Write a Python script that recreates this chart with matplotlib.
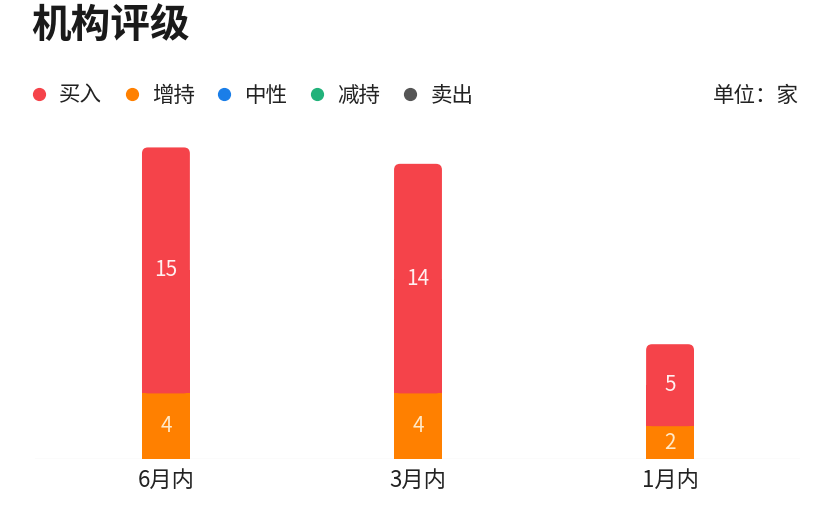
import matplotlib
matplotlib.use("Agg")
import matplotlib.pyplot as plt
from matplotlib.patches import FancyBboxPatch
from matplotlib.lines import Line2D

plt.rcParams['font.family'] = ['Noto Sans CJK SC', 'DejaVu Sans']

# data
periods = ['6月内', '3月内', '1月内']
buy = [15, 14, 5]
overweight = [4, 4, 2]
legend_names = ['买入', '增持', '中性', '减持', '卖出']
legend_colors = ['#F5434A', '#FF8000', '#1A7EE8', '#21B27A', '#555555']

RED = legend_colors[0]
ORANGE = legend_colors[1]

fig = plt.figure(figsize=(8.3, 5.14), dpi=100)
ax = fig.add_axes([0.042, 0.107, 0.922, 0.64])

x = list(range(len(periods)))
width = 0.19
ymax = 20.06
ax.set_xlim(-0.52, 2.516)
ax.set_ylim(0, ymax)

# orange (bottom) segments
ax.bar(x, overweight, width=width, color=ORANGE, zorder=2)

# red segments with rounded top
px_per_x = 0.922 * 830 / (2.516 + 0.52)
px_per_y = 0.64 * 514 / ymax
aspect = px_per_x / px_per_y
r = 6 / px_per_x
for xi, b, o in zip(x, buy, overweight):
    box = FancyBboxPatch((xi - width / 2, o), width, b,
                         boxstyle=f"round,pad=0,rounding_size={r}",
                         mutation_aspect=aspect, fc=RED, ec='none', zorder=2)
    ax.add_patch(box)
    ax.bar(xi, b / 2, bottom=o, width=width, color=RED, zorder=2)
    ax.text(xi, o + b / 2, str(b), ha='center', va='center', color='#FFF0F0',
            fontsize=15, zorder=3)
    ax.text(xi, o / 2, str(o), ha='center', va='center', color='#FFE9C8',
            fontsize=15, zorder=3)

ax.axhline(0, color='#EEEEEE', lw=1, zorder=1)
for s in ax.spines.values():
    s.set_visible(False)
ax.set_yticks([])
ax.set_xticks(x)
ax.set_xticklabels(periods, fontsize=16, color='#222222')
ax.tick_params(axis='x', length=0, pad=7)

# title
fig.text(0.038, 0.950, '机构评级', fontsize=28.5, fontweight='bold',
         color='#1A1A1A', ha='left', va='center')

# legend
handles = [Line2D([], [], marker='o', ls='none', ms=8.5, mfc=c, mec=c)
           for c in legend_colors]
fig.legend(handles, legend_names, loc='center left',
           bbox_to_anchor=(0.0105, 0.814), ncol=5, frameon=False,
           fontsize=15.5, handletextpad=0.45, columnspacing=0.86,
           handlelength=1.0, labelcolor='#222222')

fig.text(0.962, 0.814, '单位：家', fontsize=15.5, color='#222222',
         ha='right', va='center')

fig.savefig('out.png', dpi=100)
